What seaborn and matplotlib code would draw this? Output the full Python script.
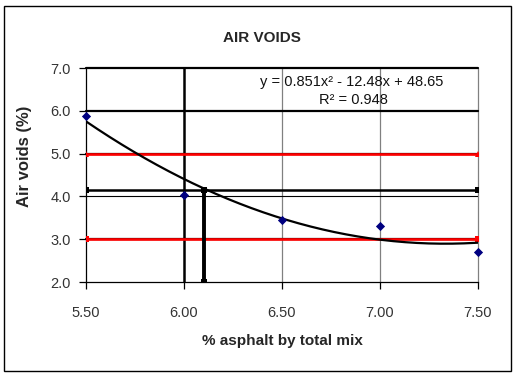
import numpy as np
import pandas as pd
import matplotlib
matplotlib.use("Agg")
import matplotlib.pyplot as plt
import seaborn as sns
from matplotlib.patches import Rectangle

# Measured air voids at each asphalt content
asphalt = [5.5, 6.0, 6.5, 7.0, 7.5]
air_voids = [5.87, 4.04, 3.44, 3.32, 2.70]

# Second-order trend line coefficients (a, b, c) and fit quality
trend_coef = [0.851, -12.48, 48.65]
r_squared = 0.948

# Specification limits and design point
upper_limit = 5.0
lower_limit = 3.0
target_voids = 4.15
optimum_ac = 6.1

x_ticks = [5.5, 6.0, 6.5, 7.0, 7.5]
x_tick_labels = ["5.50", "6.00", "6.50", "7.00", "7.50"]
y_ticks = [2.0, 3.0, 4.0, 5.0, 6.0, 7.0]
y_tick_labels = ["2.0", "3.0", "4.0", "5.0", "6.0", "7.0"]

sns.set_theme(style="white")
plt.rcParams["font.family"] = ["Liberation Sans", "DejaVu Sans"]

fig = plt.figure(figsize=(5.13, 3.74), dpi=100)
ax = fig.add_axes([86 / 513, 1 - 282 / 374, (478 - 86) / 513, (282 - 68) / 374])

xmin, xmax = x_ticks[0], x_ticks[-1]

# Grid: thin grey verticals, heavy black horizontals
for xv in x_ticks[2:]:
    ax.axvline(xv, color="#808080", lw=0.9, zorder=1, clip_on=False)
ax.axvline(6.0, color="black", lw=1.8, zorder=1)
for yv in [3.0, 5.0, 6.0, 7.0]:
    ax.axhline(yv, color="black", lw=1.6, zorder=1, clip_on=False)
ax.axhline(4.0, color="black", lw=0.8, zorder=1)

# Specification limits
lim_df = pd.DataFrame({"x": [xmin, xmax], "upper": [upper_limit] * 2,
                       "lower": [lower_limit] * 2, "target": [target_voids] * 2})
sns.lineplot(data=lim_df, x="x", y="upper", color="red", lw=1.9, marker="^",
             markersize=5, markeredgewidth=0, ax=ax, zorder=3)
sns.lineplot(data=lim_df, x="x", y="lower", color="red", lw=1.9, marker="s",
             markersize=5, markeredgewidth=0, ax=ax, zorder=3)
sns.lineplot(data=lim_df, x="x", y="target", color="black", lw=1.8, marker="s",
             markersize=4, markeredgewidth=0, ax=ax, zorder=3)

# Design asphalt content drop line
drop_df = pd.DataFrame({"x": [optimum_ac, optimum_ac], "y": [y_ticks[0], target_voids]})
sns.lineplot(data=drop_df, x="x", y="y", color="black", lw=2.8, marker="s",
             markersize=4, markeredgewidth=0, sort=False, estimator=None,
             ax=ax, zorder=4)

# Polynomial trend line
xs = np.linspace(xmin, xmax, 200)
trend_df = pd.DataFrame({"x": xs, "y": np.polyval(trend_coef, xs)})
sns.lineplot(data=trend_df, x="x", y="y", color="black", lw=1.6, ax=ax, zorder=5)

# Measured points
pts = pd.DataFrame({"x": asphalt, "y": air_voids})
sns.scatterplot(data=pts, x="x", y="y", marker="D", s=22, color="#000080",
                edgecolor="#000080", linewidth=0, ax=ax, zorder=6, clip_on=False)

ax.set_xlim(xmin, xmax)
ax.set_ylim(y_ticks[0], y_ticks[-1])
ax.set_xticks(x_ticks, x_tick_labels)
ax.set_yticks(y_ticks, y_tick_labels)
ax.tick_params(axis="both", which="major", direction="out", length=5, width=0.9,
               color="black", labelsize=10.5, labelcolor="#333333",
               bottom=True, left=True)
ax.tick_params(axis="x", pad=12)
ax.tick_params(axis="y", pad=6)
for side in ["top", "right"]:
    ax.spines[side].set_visible(False)
ax.spines["left"].set_color("black")
ax.spines["left"].set_linewidth(0.9)
ax.spines["bottom"].set_color("black")
ax.spines["bottom"].set_linewidth(0.9)

ax.set_xlabel("% asphalt by total mix", fontsize=11, fontweight="bold", labelpad=10)
ax.set_ylabel("")
fig.text(25 / 513, 1 - 156 / 374, "Air voids (%)", rotation=90, fontsize=12,
         fontweight="bold", ha="center", va="center")

fig.text(262 / 513, 1 - 38 / 374, "AIR VOIDS", fontsize=11, fontweight="bold",
         ha="center", va="center")

a, b, c = trend_coef
eq = f"y = {a:.3f}x\u00b2 - {abs(b):.2f}x + {c:.2f}"
fig.text(352 / 513, 1 - 82 / 374, eq, fontsize=10.5, ha="center", va="center",
         color="#111111")
fig.text(353 / 513, 1 - 100 / 374, f"R\u00b2 = {r_squared:.3f}", fontsize=10.5,
         ha="center", va="center", color="#111111")

# Chart-area border
fig.patches.append(Rectangle((4 / 513, 3 / 374), 507 / 513, 365 / 374,
                             transform=fig.transFigure, fill=False,
                             edgecolor="black", lw=1.0))

fig.savefig("out.png", dpi=100)
